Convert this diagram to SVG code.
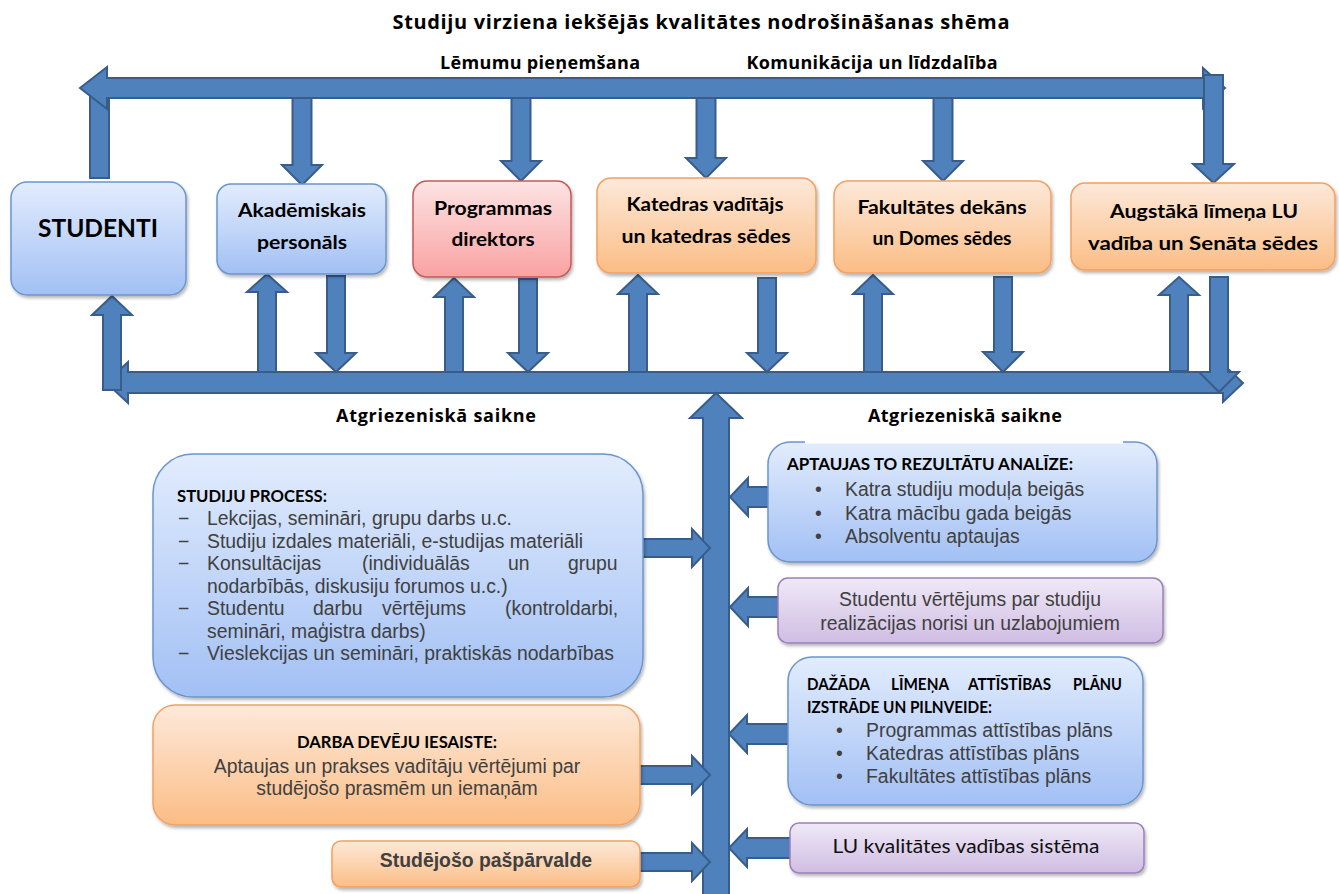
<svg xmlns="http://www.w3.org/2000/svg" width="1339" height="894" viewBox="0 0 1339 894">
<defs>
<linearGradient id="gBlue" x1="0" y1="0" x2="0" y2="1"><stop offset="0" stop-color="#e2ecfd"/><stop offset="1" stop-color="#a2c0f4"/></linearGradient>
<linearGradient id="gOrange" x1="0" y1="0" x2="0" y2="1"><stop offset="0" stop-color="#fde9da"/><stop offset="1" stop-color="#fbbd85"/></linearGradient>
<linearGradient id="gRed" x1="0" y1="0" x2="0" y2="1"><stop offset="0" stop-color="#fde3e3"/><stop offset="1" stop-color="#f9a2a2"/></linearGradient>
<linearGradient id="gPurple" x1="0" y1="0" x2="0" y2="1"><stop offset="0" stop-color="#f0e9f7"/><stop offset="1" stop-color="#cfbde3"/></linearGradient>
<filter id="sh" x="-10%" y="-10%" width="125%" height="135%"><feDropShadow dx="1.5" dy="2.5" stdDeviation="1.5" flood-color="#000" flood-opacity="0.28"/></filter>
</defs>
<style>
.arrow{fill:#4f81bd;stroke:#385d8a;stroke-width:2;stroke-linejoin:miter}
.blue{fill:url(#gBlue);stroke:#6a95cf;stroke-width:1.5;filter:url(#sh)}
.orange{fill:url(#gOrange);stroke:#f4a060;stroke-width:1.5;filter:url(#sh)}
.red{fill:url(#gRed);stroke:#c45a58;stroke-width:1.5;filter:url(#sh)}
.purple{fill:url(#gPurple);stroke:#9a80bd;stroke-width:1.5;filter:url(#sh)}
.hdr{font-family:"Open Sans","Liberation Sans",sans-serif;font-weight:bold;fill:#000}
.lbl{font-family:Lato,"Liberation Sans",sans-serif;font-weight:bold;fill:#000;text-anchor:middle}
.cal{font-family:Lato,"Liberation Sans",sans-serif;font-weight:bold;fill:#000}
.body{font-family:"Liberation Sans",Arial,sans-serif;font-size:19.4px;fill:#404040}
</style>

<g id="connectors">
  <polygon class="arrow" points="90,88 109,88 109,178 90,178"/>
  <polygon class="arrow" points="80,88 107,67 107,78 1203,78 1203,68 1225,88 1203,108 1203,98 107,98 107,109"/>
  <polygon class="arrow" points="1204,75 1223,75 1223,164 1234,164 1213.5,183 1193,164 1204,164"/>
  <polygon class="arrow" points="292.5,98 311.5,98 311.5,165 322,165 302,185 282,165 292.5,165"/>
  <polygon class="arrow" points="511.5,98 530.5,98 530.5,161 541,161 521,181 501,161 511.5,161"/>
  <polygon class="arrow" points="696.5,98 715.5,98 715.5,158 726,158 706,178 686,158 696.5,158"/>
  <polygon class="arrow" points="933.5,98 952.5,98 952.5,161 963,161 943,181 923,161 933.5,161"/>

  <polygon class="arrow" points="106,382.5 128,362 128,372 1223,372 1223,364 1243,383 1223,402 1223,393 128,393 128,403"/>
  <polygon class="arrow" points="112,296 132,315 121,315 121,390 103,390 103,315 92,315"/>
  <polygon class="arrow" points="267,274 287,292 276,292 276,372 258,372 258,292 247,292"/>
  <polygon class="arrow" points="327,276 345,276 345,353 356,353 336,372 316,353 327,353"/>
  <polygon class="arrow" points="454,278 474,297 463,297 463,372 445,372 445,297 434,297"/>
  <polygon class="arrow" points="519,279 537,279 537,353 548,353 528,372 508,353 519,353"/>
  <polygon class="arrow" points="638,275 658,294 647,294 647,372 629,372 629,294 618,294"/>
  <polygon class="arrow" points="758,278 776,278 776,353 787,353 767,372 747,353 758,353"/>
  <polygon class="arrow" points="873,275 893,294 882,294 882,372 864,372 864,294 853,294"/>
  <polygon class="arrow" points="994,277 1012,277 1012,352 1023,352 1003,372 983,352 994,352"/>
  <polygon class="arrow" points="1179,277 1199,295 1188,295 1188,371 1170,371 1170,295 1159,295"/>
  <polygon class="arrow" points="1210,277 1228,277 1228,372 1239,372 1219,392 1199,372 1210,372"/>

  <polygon class="arrow" points="716,393 742,418 729,418 729,900 703,900 703,418 690,418"/>

  <polygon class="arrow" points="730,497 748,478 748,487 780,487 780,507 748,507 748,516"/>
  <polygon class="arrow" points="730,607 748,588 748,597 784,597 784,617 748,617 748,626"/>
  <polygon class="arrow" points="729,734 747,715 747,724 792,724 792,744 747,744 747,753"/>
  <polygon class="arrow" points="729,848 747,829 747,838 794,838 794,858 747,858 747,867"/>

  <polygon class="arrow" points="640,539 692,539 692,529 710,548 692,567 692,557 640,557"/>
  <polygon class="arrow" points="636,766 692,766 692,756 710,775 692,794 692,784 636,784"/>
  <polygon class="arrow" points="636,853 692,853 692,843 710,862 692,881 692,871 636,871"/>
</g>

<g id="title">
  <text class="hdr" x="701" y="29" font-size="20" text-anchor="middle" textLength="617" lengthAdjust="spacing">Studiju virziena iekšējās kvalitātes nodrošināšanas shēma</text>
</g>
<g id="label-lemumu"><text class="hdr" x="540" y="69" font-size="18" text-anchor="middle" textLength="200" lengthAdjust="spacing">Lēmumu pieņemšana</text></g>
<g id="label-komunikacija"><text class="hdr" x="872" y="69" font-size="18" text-anchor="middle" textLength="251" lengthAdjust="spacing">Komunikācija un līdzdalība</text></g>

<g id="node-studenti">
  <rect class="blue" x="11" y="182" width="175" height="113" rx="16"/>
  <text class="lbl" x="98" y="237" font-size="24" textLength="120" lengthAdjust="spacingAndGlyphs">STUDENTI</text>
</g>
<g id="node-akademiskais">
  <rect class="blue" x="217" y="184" width="169" height="90" rx="14"/>
  <text class="lbl" x="302" y="217" font-size="19" textLength="128" lengthAdjust="spacingAndGlyphs">Akadēmiskais</text>
  <text class="lbl" x="302" y="249" font-size="19" textLength="90" lengthAdjust="spacingAndGlyphs">personāls</text>
</g>
<g id="node-programmas">
  <rect class="red" x="413" y="181" width="158" height="96" rx="14"/>
  <text class="lbl" x="493" y="215" font-size="19" textLength="118" lengthAdjust="spacingAndGlyphs">Programmas</text>
  <text class="lbl" x="493" y="246" font-size="19" textLength="83" lengthAdjust="spacingAndGlyphs">direktors</text>
</g>
<g id="node-katedras">
  <rect class="orange" x="597" y="178" width="219" height="95" rx="14"/>
  <text class="lbl" x="705" y="211" font-size="19" textLength="157" lengthAdjust="spacingAndGlyphs">Katedras vadītājs</text>
  <text class="lbl" x="706" y="243" font-size="19" textLength="169" lengthAdjust="spacingAndGlyphs">un katedras sēdes</text>
</g>
<g id="node-fakultates">
  <rect class="orange" x="834" y="181" width="217" height="92" rx="14"/>
  <text class="lbl" x="942" y="214" font-size="19" textLength="169" lengthAdjust="spacingAndGlyphs">Fakultātes dekāns</text>
  <text class="lbl" x="942" y="245" font-size="19" textLength="139" lengthAdjust="spacingAndGlyphs">un Domes sēdes</text>
</g>
<g id="node-augstaka">
  <rect class="orange" x="1071" y="183" width="264" height="87" rx="14"/>
  <text class="lbl" x="1204" y="218" font-size="19" textLength="188" lengthAdjust="spacingAndGlyphs">Augstākā līmeņa LU</text>
  <text class="lbl" x="1203" y="250" font-size="19" textLength="230" lengthAdjust="spacingAndGlyphs">vadība un Senāta sēdes</text>
</g>

<g id="node-studiju-process">
  <rect class="blue" x="153" y="454" width="490" height="243" rx="40"/>
  <text class="cal" x="177" y="502" font-size="17.5" textLength="150" lengthAdjust="spacingAndGlyphs">STUDIJU PROCESS:</text>
  <g class="body">
    <text x="178" y="525">−</text><text x="207" y="525">Lekcijas, semināri, grupu darbs u.c.</text>
    <text x="178" y="547.5">−</text><text x="207" y="547.5">Studiju izdales materiāli, e-studijas materiāli</text>
    <text x="178" y="570">−</text><text y="570"><tspan x="207">Konsultācijas</tspan><tspan x="362">(individuālās</tspan><tspan x="508">un</tspan><tspan x="568">grupu</tspan></text>
    <text x="207" y="592.5">nodarbībās, diskusiju forumos u.c.)</text>
    <text x="178" y="615">−</text><text y="615"><tspan x="207">Studentu</tspan><tspan x="313">darbu</tspan><tspan x="382">vērtējums</tspan><tspan x="505">(kontroldarbi,</tspan></text>
    <text x="207" y="637.5">semināri, maģistra darbs)</text>
    <text x="178" y="660">−</text><text x="207" y="660">Vieslekcijas un semināri, praktiskās nodarbības</text>
  </g>
</g>

<g id="node-darba-deveji">
  <rect class="orange" x="153" y="705" width="487" height="120" rx="22"/>
  <text class="cal" x="397" y="748" font-size="17.5" text-anchor="middle" textLength="200" lengthAdjust="spacingAndGlyphs">DARBA DEVĒJU IESAISTE:</text>
  <text class="body" x="397" y="773" text-anchor="middle">Aptaujas un prakses vadītāju vērtējumi par</text>
  <text class="body" x="397" y="795" text-anchor="middle">studējošo prasmēm un iemaņām</text>
</g>

<g id="node-pasparvalde">
  <rect class="orange" x="332" y="841" width="308" height="46" rx="9"/>
  <text class="body" x="486" y="867" text-anchor="middle" font-weight="bold">Studējošo pašpārvalde</text>
</g>

<g id="node-aptaujas">
  <rect class="blue" x="768" y="442" width="389" height="120" rx="22"/>
  <text class="cal" x="787" y="470" font-size="17.5" textLength="286" lengthAdjust="spacingAndGlyphs">APTAUJAS TO REZULTĀTU ANALĪZE:</text>
  <g class="body">
    <text x="815" y="496">•</text><text x="845" y="496">Katra studiju moduļa beigās</text>
    <text x="815" y="519.5">•</text><text x="845" y="519.5">Katra mācību gada beigās</text>
    <text x="815" y="543">•</text><text x="845" y="543">Absolventu aptaujas</text>
  </g>
</g>

<g id="node-studentu-vertejums">
  <rect class="purple" x="778" y="578" width="385" height="65" rx="10"/>
  <text class="body" x="970" y="606" text-anchor="middle">Studentu vērtējums par studiju</text>
  <text class="body" x="970" y="630" text-anchor="middle">realizācijas norisi un uzlabojumiem</text>
</g>

<g id="node-attistibas">
  <rect class="blue" x="788" y="657" width="355" height="148" rx="24"/>
  <g class="cal" font-size="17.5">
    <text x="807" y="690" textLength="63" lengthAdjust="spacingAndGlyphs">DAŽĀDA</text>
    <text x="891" y="690" textLength="58" lengthAdjust="spacingAndGlyphs">LĪMEŅA</text>
    <text x="968" y="690" textLength="83" lengthAdjust="spacingAndGlyphs">ATTĪSTĪBAS</text>
    <text x="1073" y="690" textLength="49" lengthAdjust="spacingAndGlyphs">PLĀNU</text>
    <text x="807" y="713" textLength="185" lengthAdjust="spacingAndGlyphs">IZSTRĀDE UN PILNVEIDE:</text>
  </g>
  <g class="body">
    <text x="836" y="737">•</text><text x="866" y="737">Programmas attīstības plāns</text>
    <text x="836" y="760">•</text><text x="866" y="760">Katedras attīstības plāns</text>
    <text x="836" y="783">•</text><text x="866" y="783">Fakultātes attīstības plāns</text>
  </g>
</g>

<g id="node-lu-kvalitate">
  <rect class="purple" x="790" y="823" width="354" height="50" rx="9"/>
  <text x="966" y="853" font-family="Lato, 'Liberation Sans', sans-serif" font-size="19.5" fill="#111" text-anchor="middle" textLength="267" lengthAdjust="spacingAndGlyphs">LU kvalitātes vadības sistēma</text>
</g>

<g id="label-atgriezeniska-left"><text class="hdr" x="436" y="422" font-size="18" text-anchor="middle" textLength="200" lengthAdjust="spacing">Atgriezeniskā saikne</text></g>
<g id="label-atgriezeniska-right">
  <rect x="805" y="400" width="318" height="43.5" fill="#fff"/>
  <text class="hdr" x="965" y="422" font-size="18" text-anchor="middle" textLength="194" lengthAdjust="spacing">Atgriezeniskā saikne</text>
</g>
</svg>
